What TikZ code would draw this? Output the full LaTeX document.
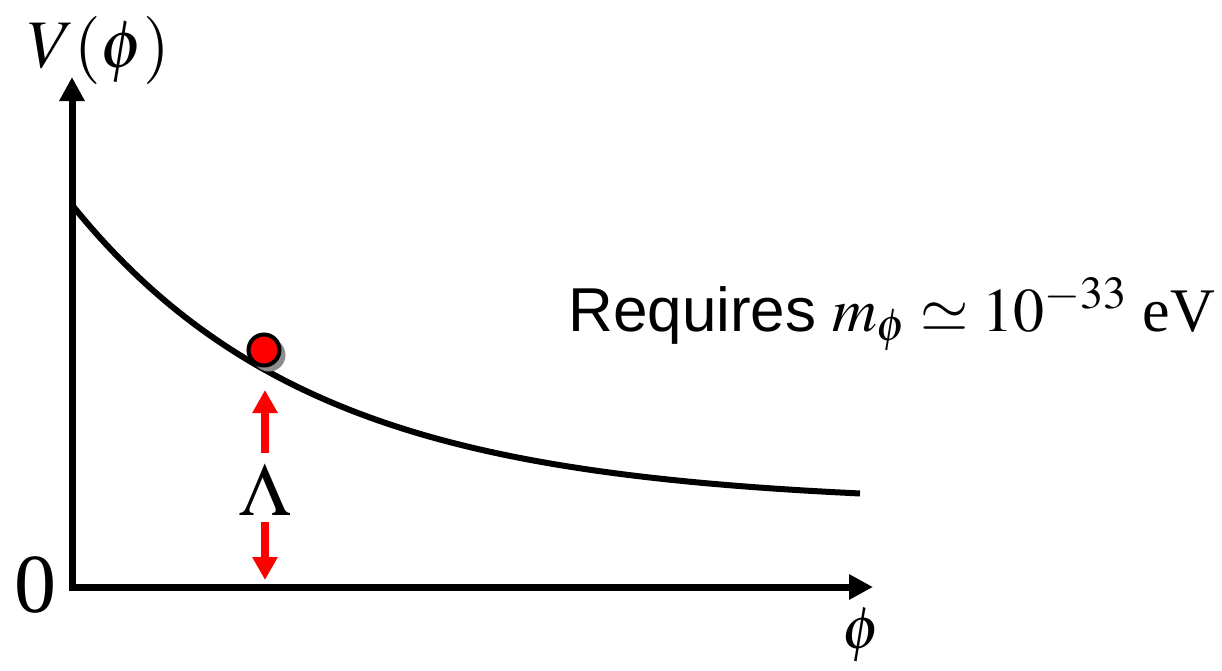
\documentclass[tikz,border=0pt]{standalone}
\usepackage{mathptmx}
\usepackage{fontspec}
\setmainfont{Liberation Serif}
\newfontfamily\arialfont{Liberation Sans}
\usepackage{tikz}
\usetikzlibrary{arrows.meta}

\tikzset{
  axis/.style={line width=3.5pt, line join=miter, {Triangle[length=12pt,width=12pt]}-{Triangle[length=12pt,width=12pt]}},
  redarrow/.style={red, line width=4pt, -{Triangle[length=11.5pt,width=12pt]}},
}

\begin{document}
\begin{tikzpicture}[x=0.5pt, y=-0.5pt]
		\useasboundingbox (0,0) rectangle (1222,670);

		% Achsen
		\coordinate (ytip) at (72,77);
		\coordinate (origin) at (72,587);
		\coordinate (xtip) at (873,587);
		\draw[axis] (ytip) -- (origin) -- (xtip);
		\node[anchor=base, inner sep=0pt] (vlabel) at (99,67) {\fontsize{34}{37}\selectfont $V(\phi)$};
		\node[anchor=base] (zero) at (35,612) {\fontsize{42}{44}\selectfont 0};
		\node[anchor=base] (philabel) at (861,648) {\fontsize{30}{32}\selectfont $\phi$};

		% Potential
		\draw[line width=3pt, domain=72:860, samples=120] plot (\x, {505-300*exp(-0.00414*(\x-72))});

		% Kugel mit Schatten
		\fill[black!45] (269,355) circle (16.5);
		\draw[fill=red, line width=2pt] (264,350) circle (15.5) coordinate (ball);

		% Lambda
		\node (lambda) at (265,490) {\fontsize{37.5}{40}\selectfont $\Lambda$};
		\coordinate (uptip) at (265,390);
		\coordinate (downtip) at (265,580);
		\draw[redarrow] (lambda.north |- 0,453) -- (uptip);
		\draw[redarrow] (lambda.south |- 0,522) -- (downtip);

		\node[anchor=base west, inner sep=0pt] (mass) at (568,331) {\fontsize{31}{35}\selectfont{\arialfont Requires} $m_{\phi} \simeq 10^{-33}$ eV};
	\end{tikzpicture}
\end{document}
